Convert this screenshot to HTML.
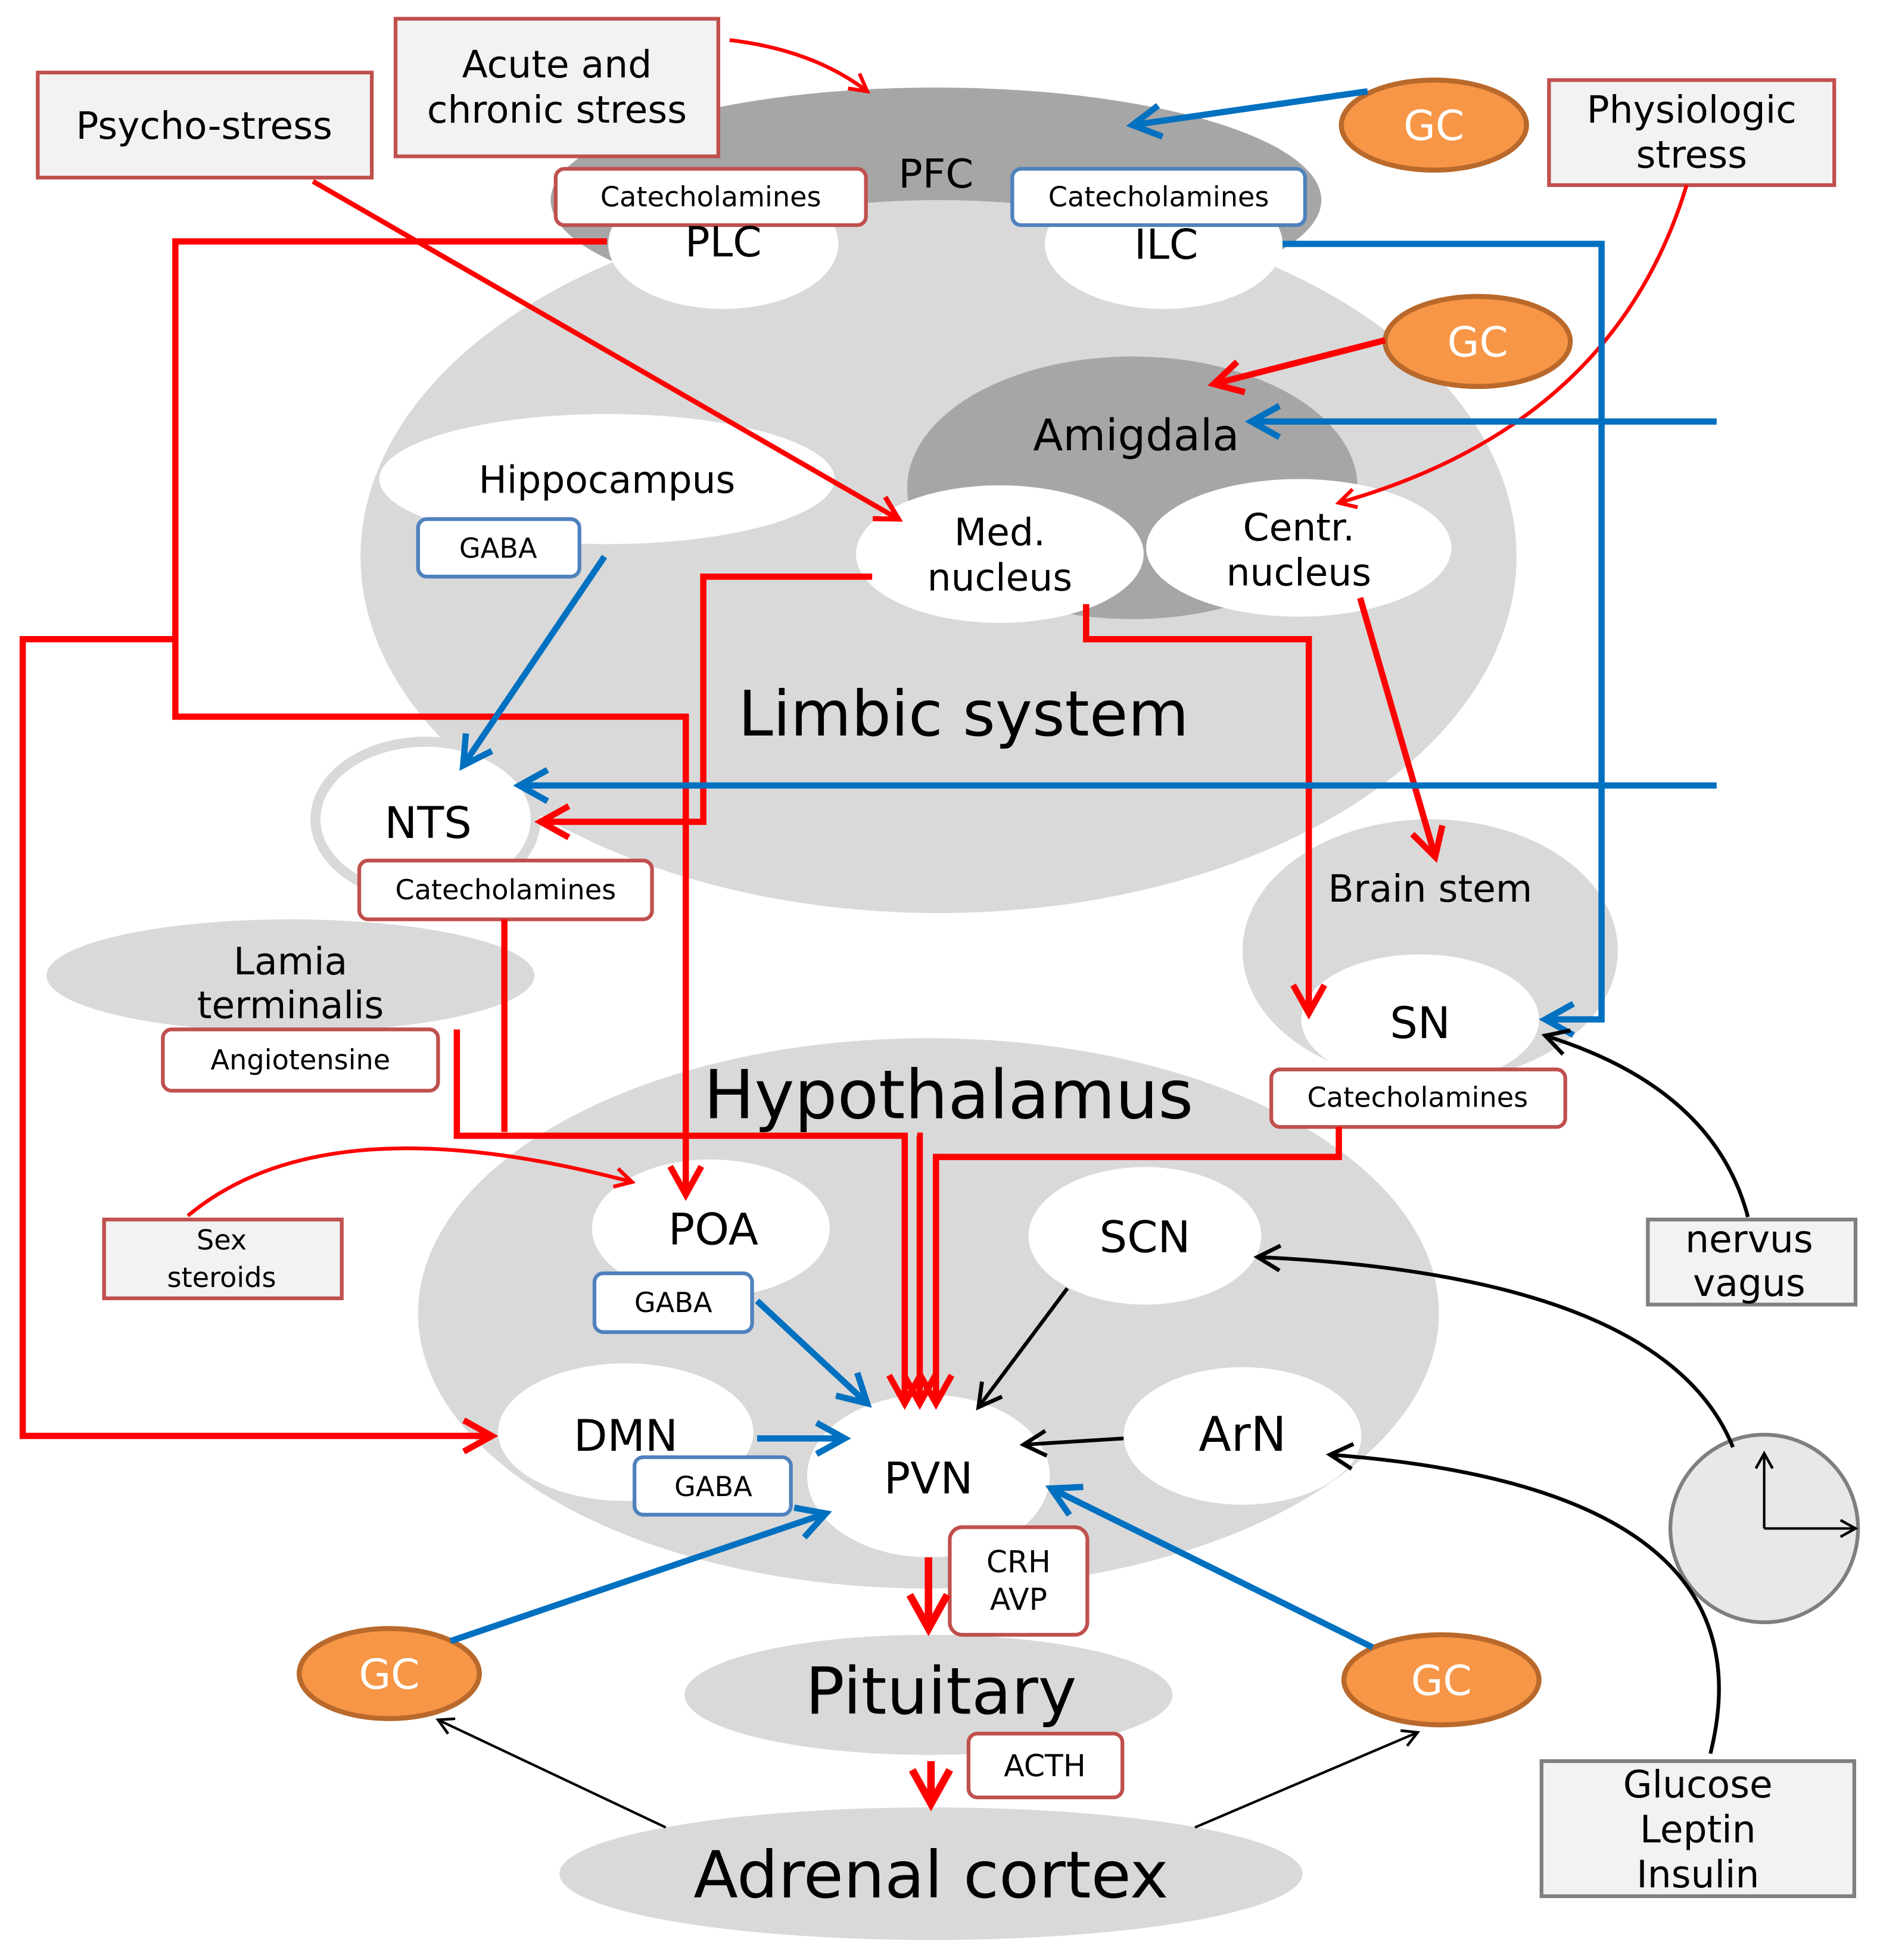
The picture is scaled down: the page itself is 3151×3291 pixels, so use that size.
<!DOCTYPE html>
<html><head><meta charset="utf-8"><style>html,body{margin:0;padding:0;background:#fff}svg{display:block}text{font-family:"DejaVu Sans","Liberation Sans",sans-serif;fill:#000;text-anchor:middle}</style></head><body>
<svg width="3151" height="3291" viewBox="0 0 1500 1567" xmlns="http://www.w3.org/2000/svg">
<defs>
<marker id="r" viewBox="0 0 12 12" refX="10" refY="6" markerWidth="6" markerHeight="6" orient="auto" markerUnits="strokeWidth"><path d="M1,1 L10,6 L1,11" fill="none" stroke="#ff0000" stroke-width="2"/></marker>
<marker id="b" viewBox="0 0 12 12" refX="10" refY="6" markerWidth="6" markerHeight="6" orient="auto" markerUnits="strokeWidth"><path d="M1,1 L10,6 L1,11" fill="none" stroke="#0070c0" stroke-width="2"/></marker>
<marker id="k" viewBox="0 0 12 12" refX="10" refY="6" markerWidth="8" markerHeight="8" orient="auto" markerUnits="strokeWidth"><path d="M1,1 L10,6 L1,11" fill="none" stroke="#000" stroke-width="1.6"/></marker>
</defs>
<ellipse cx="748" cy="160" rx="308" ry="90" fill="#a6a6a6"/>
<ellipse cx="750" cy="445" rx="462" ry="285" fill="#d9d9d9"/>
<ellipse cx="578" cy="195" rx="92" ry="52" fill="#fff"/>
<ellipse cx="930" cy="195" rx="95" ry="52" fill="#fff"/>
<ellipse cx="905" cy="390" rx="180" ry="105" fill="#a6a6a6"/>
<ellipse cx="485" cy="383" rx="182" ry="52" fill="#fff"/>
<ellipse cx="799" cy="443" rx="115" ry="55" fill="#fff"/>
<ellipse cx="1038" cy="438" rx="122" ry="55" fill="#fff"/>
<ellipse cx="340" cy="655" rx="88" ry="62" fill="#fff" stroke="#d9d9d9" stroke-width="8"/>
<ellipse cx="1143" cy="760" rx="150" ry="105" fill="#d9d9d9"/>
<ellipse cx="1135" cy="815" rx="95" ry="52" fill="#fff"/>
<ellipse cx="232" cy="780" rx="195" ry="45" fill="#d9d9d9"/>
<ellipse cx="742" cy="1050" rx="408" ry="220" fill="#d9d9d9"/>
<ellipse cx="568" cy="982" rx="95" ry="55" fill="#fff"/>
<ellipse cx="915" cy="988" rx="93" ry="55" fill="#fff"/>
<ellipse cx="500" cy="1145" rx="102" ry="55" fill="#fff"/>
<ellipse cx="993" cy="1148" rx="95" ry="55" fill="#fff"/>
<ellipse cx="742" cy="1180" rx="97" ry="65" fill="#fff"/>
<ellipse cx="742" cy="1355" rx="195" ry="48" fill="#d9d9d9"/>
<ellipse cx="744" cy="1498" rx="297" ry="53" fill="#d9d9d9"/>
<g fill="#f79646" stroke="#b9692b" stroke-width="4">
<ellipse cx="1146" cy="100" rx="74" ry="36"/><ellipse cx="1181" cy="273" rx="74" ry="36"/>
<ellipse cx="311" cy="1338" rx="72" ry="36"/><ellipse cx="1152" cy="1343" rx="78" ry="36"/></g>
<circle cx="1410" cy="1222" r="75" fill="#e8e8e8" stroke="#7f7f7f" stroke-width="3"/>
<g fill="#f2f2f2" stroke="#c0504d" stroke-width="3">
<rect x="30" y="58" width="267" height="84"/><rect x="316" y="15" width="258" height="110"/>
<rect x="1238" y="64" width="228" height="84"/><rect x="83" y="975" width="190" height="63"/></g>
<g fill="#f2f2f2" stroke="#7f7f7f" stroke-width="3"><rect x="1317" y="975" width="166" height="68"/><rect x="1232" y="1408" width="250" height="108"/></g>
<g fill="#fff" stroke="#c0504d" stroke-width="3">
<rect x="444" y="135" width="248" height="45" rx="7"/><rect x="287" y="688" width="234" height="47" rx="7"/>
<rect x="130" y="823" width="220" height="49" rx="7"/><rect x="1016" y="855" width="235" height="46" rx="7"/>
<rect x="759" y="1221" width="110" height="86" rx="10"/><rect x="774" y="1386" width="123" height="51" rx="7"/></g>
<g fill="#fff" stroke="#4f81bd" stroke-width="3">
<rect x="809" y="135" width="234" height="45" rx="7"/><rect x="334" y="415" width="129" height="46" rx="7"/>
<rect x="475" y="1018" width="126" height="47" rx="7"/><rect x="507" y="1165" width="125" height="46" rx="7"/></g>
<g fill="none" stroke="#ff0000" stroke-width="5">
<polyline points="485,193 140,193 140,573 548,573 548,955" marker-end="url(#r)"/>
<polyline points="140,511 18,511 18,1148 393,1148" marker-end="url(#r)"/>
<line x1="250" y1="145" x2="718" y2="415" stroke-width="4" marker-end="url(#r)"/>
<path d="M583,32 Q650,40 693,73" stroke-width="3" marker-end="url(#r)"/>
<path d="M1348,148 Q1290,340 1070,402" stroke-width="3" marker-end="url(#r)"/>
<line x1="1107" y1="272" x2="970" y2="307" marker-end="url(#r)"/>
<polyline points="697,461 562,461 562,657 432,657" marker-end="url(#r)"/>
<polyline points="868,483 868,511 1046,511 1046,810" marker-end="url(#r)"/>
<line x1="1087" y1="478" x2="1147" y2="685" marker-end="url(#r)"/>
<polyline points="365,823 365,908 723,908 723,1122" marker-end="url(#r)"/>
<polyline points="403,735 403,905"/>
<polyline points="733,908 735,908 735,1122" marker-end="url(#r)"/>
<polyline points="1070,901 1070,925 748,925 748,1122" marker-end="url(#r)"/>
<path d="M150,972 Q260,880 505,945" stroke-width="3" marker-end="url(#r)"/>
<line x1="742" y1="1245" x2="742" y2="1302" stroke-width="6" marker-end="url(#r)"/>
<line x1="744" y1="1408" x2="744" y2="1442" stroke-width="6" marker-end="url(#r)"/>
</g>
<g fill="none" stroke="#0070c0" stroke-width="5">
<line x1="1093" y1="73" x2="905" y2="100" marker-end="url(#b)"/>
<polyline points="1025,195 1280,195 1280,815 1235,815" marker-end="url(#b)"/>
<line x1="1372" y1="337" x2="1000" y2="337" marker-end="url(#b)"/>
<line x1="1372" y1="628" x2="415" y2="628" marker-end="url(#b)"/>
<line x1="483" y1="445" x2="370" y2="612" marker-end="url(#b)"/>
<line x1="605" y1="1040" x2="693" y2="1122" marker-end="url(#b)"/>
<line x1="605" y1="1150" x2="675" y2="1150" marker-end="url(#b)"/>
<line x1="360" y1="1312" x2="660" y2="1210" marker-end="url(#b)"/>
<line x1="1097" y1="1317" x2="840" y2="1190" marker-end="url(#b)"/>
</g>
<g fill="none" stroke="#000" stroke-width="3">
<line x1="853" y1="1030" x2="782" y2="1125" marker-end="url(#k)"/>
<line x1="898" y1="1150" x2="818" y2="1155" marker-end="url(#k)"/>
<path d="M1397,973 Q1370,870 1235,828" marker-end="url(#k)"/>
<path d="M1385,1157 Q1330,1020 1005,1005" marker-end="url(#k)"/>
<path d="M1367,1402 Q1420,1190 1063,1163" marker-end="url(#k)"/>
<line x1="532" y1="1461" x2="350" y2="1375" stroke-width="2" marker-end="url(#k)"/>
<line x1="955" y1="1461" x2="1133" y2="1385" stroke-width="2" marker-end="url(#k)"/>
<polyline points="1410,1222 1410,1162" stroke-width="2" marker-end="url(#k)"/>
<polyline points="1410,1222 1483,1222" stroke-width="2" marker-end="url(#k)"/>
</g>
<g font-size="30">
<text x="163" y="111">Psycho-stress</text>
<text x="445" y="62">Acute and</text><text x="445" y="98">chronic stress</text>
<text x="1352" y="98">Physiologic</text><text x="1352" y="134">stress</text>
<text x="748" y="150" font-size="32">PFC</text>
<text x="578" y="205" font-size="33">PLC</text><text x="932" y="207" font-size="33">ILC</text>
<text x="485" y="394">Hippocampus</text>
<text x="908" y="360" font-size="35">Amigdala</text>
<text x="799" y="436">Med.</text><text x="799" y="472">nucleus</text>
<text x="1038" y="432">Centr.</text><text x="1038" y="468">nucleus</text>
<text x="342" y="670" font-size="35">NTS</text>
<text x="1143" y="721">Brain stem</text>
<text x="1135" y="830" font-size="35">SN</text>
<text x="232" y="779">Lamia</text><text x="232" y="814">terminalis</text>
<text x="570" y="995" font-size="35">POA</text>
<text x="915" y="1001" font-size="35">SCN</text>
<text x="500" y="1160" font-size="35">DMN</text>
<text x="993" y="1160" font-size="38">ArN</text>
<text x="742" y="1194" font-size="35">PVN</text>
<text x="1398" y="1001">nervus</text><text x="1398" y="1036">vagus</text>
<text x="1357" y="1437">Glucose</text><text x="1357" y="1473">Leptin</text><text x="1357" y="1509">Insulin</text>
</g>
<g font-size="22">
<text x="568" y="165">Catecholamines</text><text x="926" y="165">Catecholamines</text>
<text x="404" y="719">Catecholamines</text><text x="1133" y="885">Catecholamines</text>
<text x="240" y="855">Angiotensine</text>
<text x="398" y="446">GABA</text><text x="538" y="1049">GABA</text><text x="570" y="1196">GABA</text>
<text x="177" y="999">Sex</text><text x="177" y="1029">steroids</text>
<text x="814" y="1257" font-size="24">CRH</text><text x="814" y="1287" font-size="24">AVP</text>
<text x="835" y="1420" font-size="24">ACTH</text>
</g>
<g font-size="33"><text x="1146" y="112" style="fill:#fff">GC</text><text x="1181" y="285" style="fill:#fff">GC</text><text x="311" y="1350" style="fill:#fff">GC</text><text x="1152" y="1355" style="fill:#fff">GC</text></g>
<text x="770" y="588" font-size="50">Limbic system</text>
<text x="758" y="894" font-size="54">Hypothalamus</text>
<text x="752" y="1370" font-size="52">Pituitary</text>
<text x="744" y="1517" font-size="52">Adrenal cortex</text>
</svg>
</body></html>
